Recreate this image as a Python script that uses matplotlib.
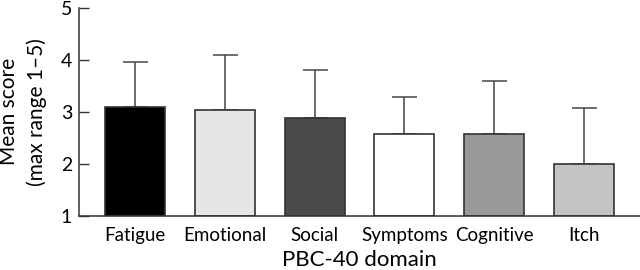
import matplotlib.pyplot as plt
import numpy as np

domains = ['Fatigue', 'Emotional', 'Social', 'Symptoms', 'Cognitive', 'Itch']
mean_scores = [3.1, 3.03, 2.89, 2.58, 2.58, 1.99]
upper_err = [0.85, 1.06, 0.92, 0.71, 1.02, 1.09]
bar_colors = ['#000000', '#e6e6e6', '#4a4a4a', '#ffffff', '#999999', '#c4c4c4']

plt.rcParams['font.family'] = ['Lato', 'DejaVu Sans']

fig = plt.figure(figsize=(6.4, 2.7), dpi=100)
ax = fig.add_axes([0.1234, 0.2, 0.8766, 0.772])

x = np.arange(len(domains))
ax.bar(x, np.array(mean_scores) - 1, bottom=1, width=0.667, color=bar_colors,
       edgecolor='#333333', linewidth=1.2, zorder=2)
ax.errorbar(x, mean_scores, yerr=[np.zeros(len(x)), upper_err], fmt='none',
            ecolor='#444444', elinewidth=1.1, capsize=9, capthick=1.1, zorder=1)

ax.set_xlim(-0.622, 5.622)
ax.set_ylim(1, 5)
ax.set_yticks([1, 2, 3, 4, 5])
ax.set_xticks(x)
ax.set_xticklabels(domains, fontsize=13.5)
ax.tick_params(axis='x', length=0, pad=8)
ax.tick_params(axis='y', direction='in', length=7, labelsize=14, color='#333333', width=1, pad=5)
for s in ['top', 'right']:
    ax.spines[s].set_visible(False)
for s in ['left', 'bottom']:
    ax.spines[s].set_color('#333333')
    ax.spines[s].set_linewidth(1.1)

ax.set_xlabel('PBC-40 domain', fontsize=16, labelpad=4)
ax.set_ylabel('Mean score\n(max range 1\u20135)', fontsize=15, labelpad=10, linespacing=1.45)

fig.savefig('out.png', dpi=100)
